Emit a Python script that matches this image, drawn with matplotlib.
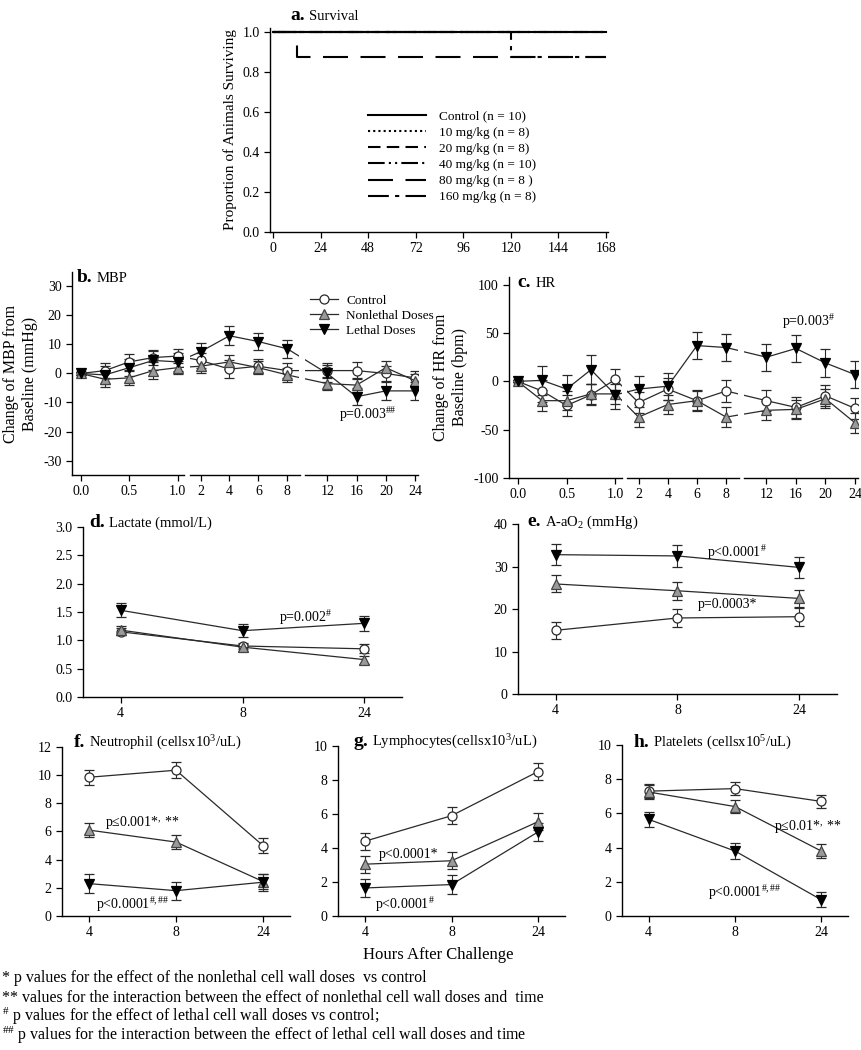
import numpy as np
import matplotlib
matplotlib.use("Agg")
import matplotlib.pyplot as plt
from matplotlib.lines import Line2D

plt.rcParams['font.family'] = 'Liberation Serif'
plt.rcParams['mathtext.fontset'] = 'custom'
plt.rcParams['mathtext.rm'] = 'Liberation Serif'
plt.rcParams['mathtext.it'] = 'Liberation Serif:italic'
plt.rcParams['mathtext.bf'] = 'Liberation Serif:bold'
plt.rcParams['axes.linewidth'] = 1.0
plt.rcParams['axes.unicode_minus'] = False
plt.rcParams['xtick.labelsize'] = 10
plt.rcParams['ytick.labelsize'] = 10

#-----------------------------------------------------------------------
# Data
#-----------------------------------------------------------------------
surv_labels = ['Control (n = 10)', '10 mg/kg (n = 8)', '20 mg/kg (n = 8)',
               '40 mg/kg (n = 10)', '80 mg/kg (n = 8 )', '160 mg/kg (n = 8)']
surv_times = [[0, 168], [0, 168], [0, 168], [0, 168], [0, 12, 168], [0, 120, 168]]
surv_props = [[1, 1], [1, 1], [1, 1], [1, 1], [1, 0.875, 0.875], [1, 0.875, 0.875]]

hemo_hours = [0, 0.25, 0.5, 0.75, 1, 2, 4, 6, 8, 12, 16, 20, 24]
hemo_ticks = [0, 0.5, 1, 2, 4, 6, 8, 12, 16, 20, 24]
hemo_ticklabels = ['0.0', '0.5', '1.0', '2', '4', '6', '8', '12', '16', '20', '24']

mbp_ctrl = [0, 1, 4, 5.5, 6, 4.5, 1.5, 2.5, 1, 1, 1, 0, -1.5]
mbp_ctrl_err = [0.5, 2.5, 2.8, 2.7, 2.5, 2.5, 3, 2.5, 2.5, 2.5, 2.8, 2.5, 2.5]
mbp_nonl = [0, -2, -1.5, 1, 2, 2.5, 4, 2, -0.5, -3.5, -4, 2, -2.5]
mbp_nonl_err = [0.5, 2.5, 2.5, 2.8, 2.3, 2.3, 2.5, 2.3, 2.3, 2.3, 2.5, 2.3, 2.3]
mbp_leth = [0, -0.5, 2, 4.5, 4, 7.5, 13, 11, 8.5, 0, -8, -6, -6]
mbp_leth_err = [0.5, 3, 3, 3.3, 3, 3, 3.3, 3, 3, 3, 3, 3, 3]

hr_ctrl = [0, -10, -25, -14, 2, -22, -8, -20, -10, -20, -27, -15, -28]
hr_ctrl_err = [1, 11, 11, 11, 11, 11, 11, 11, 11, 11, 11, 11, 11]
hr_nonl = [0, -20, -20, -13, -13, -37, -24, -20, -37, -30, -29, -18, -43]
hr_nonl_err = [1, 11, 10, 10, 10, 10, 10, 10, 10, 10, 10, 10, 10]
hr_leth = [0, 1, -8, 12, -14, -8, -5, 37, 35, 25, 34, 19, 7]
hr_leth_err = [1, 15, 15, 15, 15, 14, 14, 14, 14, 14, 14, 14, 14]

lab_hours = ['4', '8', '24']

lac_ctrl = [1.15, 0.90, 0.85]
lac_ctrl_err = [0.06, 0.06, 0.08]
lac_nonl = [1.18, 0.88, 0.66]
lac_nonl_err = [0.08, 0.06, 0.07]
lac_leth = [1.53, 1.17, 1.30]
lac_leth_err = [0.12, 0.12, 0.13]

aao2_ctrl = [15.0, 17.9, 18.2]
aao2_ctrl_err = [2.0, 2.1, 2.1]
aao2_nonl = [25.9, 24.3, 22.5]
aao2_nonl_err = [2.0, 2.1, 2.0]
aao2_leth = [32.8, 32.5, 29.8]
aao2_leth_err = [2.5, 2.5, 2.5]

neut_ctrl = [9.85, 10.35, 5.0]
neut_ctrl_err = [0.55, 0.55, 0.55]
neut_nonl = [6.1, 5.25, 2.45]
neut_nonl_err = [0.5, 0.5, 0.5]
neut_leth = [2.3, 1.8, 2.4]
neut_leth_err = [0.65, 0.65, 0.6]

lymph_ctrl = [4.4, 5.9, 8.5]
lymph_ctrl_err = [0.5, 0.5, 0.5]
lymph_nonl = [3.05, 3.25, 5.55]
lymph_nonl_err = [0.5, 0.5, 0.5]
lymph_leth = [1.65, 1.85, 4.95]
lymph_leth_err = [0.55, 0.55, 0.55]

plt_ctrl = [7.3, 7.45, 6.7]
plt_ctrl_err = [0.4, 0.4, 0.4]
plt_nonl = [7.25, 6.4, 3.8]
plt_nonl_err = [0.4, 0.4, 0.4]
plt_leth = [5.65, 3.8, 0.95]
plt_leth_err = [0.45, 0.45, 0.45]

group_names = ['Control', 'Nonlethal Doses', 'Lethal Doses']

#-----------------------------------------------------------------------
# Styles
#-----------------------------------------------------------------------
LC = '#2a2a2a'
styles = [dict(marker='o', mfc='white', mec=LC),
          dict(marker='^', mfc='#9a9a9a', mec='#444444'),
          dict(marker='v', mfc='black', mec='black')]


def draw_groups(ax, x, groups):
    for (y, e), st in zip(groups, styles):
        ax.errorbar(x, y, yerr=e, color=LC, lw=0.9, elinewidth=0.8,
                    capsize=3.5, capthick=0.8, ms=6.5, mew=0.9, **st)


def clean(ax):
    ax.spines['top'].set_visible(False)
    ax.spines['right'].set_visible(False)
    ax.tick_params(length=4, width=0.9)


def title(ax, letter, rest, x, y):
    t = ax.text(x, y, letter, transform=ax.transAxes, fontsize=14,
                fontweight='bold', va='baseline', ha='left')
    ax.annotate(rest, xy=(1, 0.22), xycoords=t, xytext=(3, 0),
                textcoords='offset points', fontsize=10.5, va='baseline', ha='left')


# broken hour axis: 0-1 h, 2-8 h, 12-24 h
knots_h = [-1, 0, 1, 2, 8, 12, 24, 30]
knots_u = [-98, 0, 97, 120, 207, 247, 335, 379]


def fwd(h):
    return np.interp(h, knots_h, knots_u)


def inv(u):
    return np.interp(u, knots_u, knots_h)


def hemo_axis(ax):
    ax.set_xscale('function', functions=(fwd, inv))
    ax.set_xlim(-0.09, 24.4)
    ax.set_xticks(hemo_ticks)
    ax.set_xticklabels(hemo_ticklabels)
    ax.spines['bottom'].set_visible(False)
    for a, b in [(-0.09, 1.30), (1.52, 9.3), (9.8, 24.4)]:
        ax.plot([a, b], [0, 0], color='black', lw=1.0,
                transform=ax.get_xaxis_transform(), clip_on=False, zorder=5)
    for a, b in [(1.30, 1.52), (9.2, 9.8)]:
        ax.axvspan(a, b, color='white', zorder=2.5, lw=0)


fig = plt.figure(figsize=(8.61, 10.5), dpi=100)

#-----------------------------------------------------------------------
# a. Survival
#-----------------------------------------------------------------------
axa = fig.add_axes([0.3136, 0.779, 0.3924, 0.1943])
dashes = [(None, None), (1, 1.5), (6, 3), (8, 2, 1, 2, 1, 2), (12, 6), (10, 3, 2, 3)]
handles = []
for t, s, d, lab in zip(surv_times, surv_props, dashes, surv_labels):
    ln, = axa.step(t, s, where='post', color='black', lw=1.5)
    if d[0] is not None:
        ln.set_dashes(d)
    handles.append(ln)
axa.set_xlim(-1.5, 169)
axa.set_ylim(0, 1.02)
axa.set_xticks(range(0, 169, 24))
axa.set_yticks(np.arange(0, 1.01, 0.2))
axa.set_yticklabels(['%.1f' % v for v in np.arange(0, 1.01, 0.2)])
axa.set_ylabel('Proportion of Animals Surviving', fontsize=11)
clean(axa)
axa.legend(handles, surv_labels, loc='upper left', bbox_to_anchor=(0.27, 0.63),
           frameon=False, fontsize=9.5, handlelength=4.4, labelspacing=0.3,
           handletextpad=1.0, borderpad=0)
title(axa, 'a.', 'Survival', 0.06, 1.04)

#-----------------------------------------------------------------------
# b. MBP
#-----------------------------------------------------------------------
axb = fig.add_axes([0.0836, 0.5476, 0.4019, 0.1934])
draw_groups(axb, hemo_hours, [(mbp_ctrl, mbp_ctrl_err), (mbp_nonl, mbp_nonl_err),
                              (mbp_leth, mbp_leth_err)])
hemo_axis(axb)
axb.set_ylim(-35, 35)
axb.set_yticks(range(-30, 31, 10))
axb.set_ylabel('Change of MBP from\nBaseline (mmHg)', fontsize=11.5)
clean(axb)
leg_h = [Line2D([], [], color=LC, lw=0.9, ms=6.5, mew=0.9, **st) for st in styles]
axb.legend(leg_h, group_names, loc='upper left', bbox_to_anchor=(0.67, 0.92),
           frameon=False, fontsize=9.5, handlelength=2.1, labelspacing=0.2,
           handletextpad=0.6, borderpad=0)
axb.text(0.855, 0.296, 'p=0.003$^{\\#\\#}$', transform=axb.transAxes,
         ha='center', va='center', fontsize=10)
title(axb, 'b.', 'MBP', 0.015, 0.95)

#-----------------------------------------------------------------------
# c. HR
#-----------------------------------------------------------------------
axc = fig.add_axes([0.591, 0.5448, 0.4055, 0.1914])
draw_groups(axc, hemo_hours, [(hr_ctrl, hr_ctrl_err), (hr_nonl, hr_nonl_err),
                              (hr_leth, hr_leth_err)])
hemo_axis(axc)
axc.set_ylim(-100, 108)
axc.set_yticks(range(-100, 101, 50))
axc.set_ylabel('Change of HR from\nBaseline (bpm)', fontsize=11.5)
clean(axc)
axc.text(0.857, 0.776, 'p=0.003$^{\\#}$', transform=axc.transAxes,
         ha='center', va='center', fontsize=10)
title(axc, 'c.', 'HR', 0.025, 0.95)

#-----------------------------------------------------------------------
# d - h. Lab values
#-----------------------------------------------------------------------
def lab_axes(rect, groups, ylim, yticks, fmt):
    ax = fig.add_axes(rect)
    draw_groups(ax, range(len(lab_hours)), groups)
    ax.set_xlim(-0.31, 2.31)
    ax.set_xticks(range(len(lab_hours)))
    ax.set_xticklabels(lab_hours)
    ax.set_ylim(*ylim)
    ax.set_yticks(yticks)
    ax.set_yticklabels([fmt % v for v in yticks])
    clean(ax)
    return ax


axd = lab_axes([0.0964, 0.3362, 0.3705, 0.1619],
               [(lac_ctrl, lac_ctrl_err), (lac_nonl, lac_nonl_err), (lac_leth, lac_leth_err)],
               (0, 3.0), np.arange(0, 3.01, 0.5), '%.1f')
axd.text(0.696, 0.47, 'p=0.002$^{\\#}$', transform=axd.transAxes,
         ha='center', va='center', fontsize=10)
title(axd, 'd.', 'Lactate (mmol/L)', 0.02, 1.0)

axe = lab_axes([0.6016, 0.339, 0.3705, 0.1619],
               [(aao2_ctrl, aao2_ctrl_err), (aao2_nonl, aao2_nonl_err), (aao2_leth, aao2_leth_err)],
               (0, 40), range(0, 41, 10), '%d')
axe.text(0.687, 0.835, 'p<0.0001$^{\\#}$', transform=axe.transAxes,
         ha='center', va='center', fontsize=10)
axe.text(0.658, 0.524, 'p=0.0003*', transform=axe.transAxes,
         ha='center', va='center', fontsize=10)
title(axe, 'e.', 'A-aO$_2$ (mmHg)', 0.03, 0.99)

axf = lab_axes([0.072, 0.1276, 0.2648, 0.161],
               [(neut_ctrl, neut_ctrl_err), (neut_nonl, neut_nonl_err), (neut_leth, neut_leth_err)],
               (0, 12), range(0, 13, 2), '%d')
axf.text(0.35, 0.556, 'p\u22640.001*$^{,}$ **', transform=axf.transAxes,
         ha='center', va='center', fontsize=10)
axf.text(0.31, 0.065, 'p<0.0001$^{\\#,\\#\\#}$', transform=axf.transAxes,
         ha='center', va='center', fontsize=10)
title(axf, 'f.', 'Neutrophil (cellsx10$^3$/uL)', 0.05, 1.0)

axg = lab_axes([0.3926, 0.1276, 0.2636, 0.1619],
               [(lymph_ctrl, lymph_ctrl_err), (lymph_nonl, lymph_nonl_err), (lymph_leth, lymph_leth_err)],
               (0, 10), range(0, 11, 2), '%d')
axg.text(0.31, 0.36, 'p<0.0001*', transform=axg.transAxes,
         ha='center', va='center', fontsize=10)
axg.text(0.295, 0.065, 'p<0.0001$^{\\#}$', transform=axg.transAxes,
         ha='center', va='center', fontsize=10)
title(axg, 'g.', 'Lymphocytes(cellsx10$^3$/uL)', 0.066, 1.0)

axh = lab_axes([0.7224, 0.1276, 0.2625, 0.1629],
               [(plt_ctrl, plt_ctrl_err), (plt_nonl, plt_nonl_err), (plt_leth, plt_leth_err)],
               (0, 10), range(0, 11, 2), '%d')
axh.text(0.82, 0.526, 'p\u22640.01*$^{,}$ **', transform=axh.transAxes,
         ha='center', va='center', fontsize=10)
axh.text(0.544, 0.135, 'p<0.0001$^{\\#,\\#\\#}$', transform=axh.transAxes,
         ha='center', va='center', fontsize=10)
title(axh, 'h.', 'Platelets (cellsx10$^5$/uL)', 0.05, 0.99)

fig.text(438 / 861, 1 - 955 / 1050, 'Hours After Challenge', ha='center',
         va='center', fontsize=12)

#-----------------------------------------------------------------------
# Footnotes
#-----------------------------------------------------------------------
notes = ['* p values for the effect of the nonlethal cell wall doses  vs control',
         '** values for the interaction between the effect of nonlethal cell wall doses and  time',
         '$^{\\#}$ p values for the effect of lethal cell wall doses vs control;',
         '$^{\\#\\#}$ p values for the interaction between the effect of lethal cell wall doses and time']
for i, n in enumerate(notes):
    fig.text(2 / 861, 1 - (982 + 19.5 * i) / 1050, n, ha='left', va='baseline', fontsize=11.5)

fig.savefig('out.png', dpi=100)
